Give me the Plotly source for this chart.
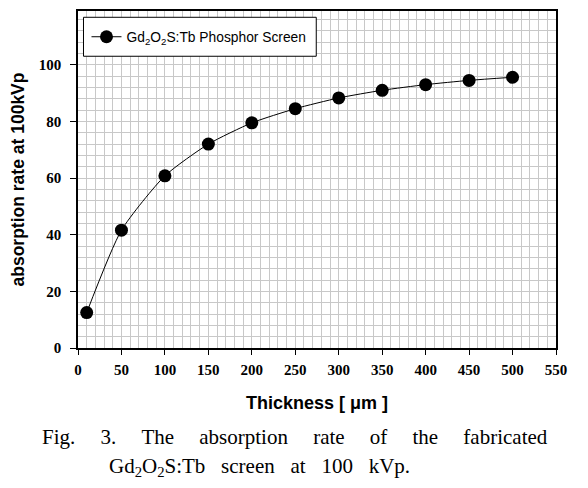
import plotly.graph_objects as go

thickness = [10, 50, 100, 150, 200, 250, 300, 350, 400, 450, 500]
absorption = [12.5, 41.6, 60.8, 72.0, 79.5, 84.5, 88.3, 91.0, 93.0, 94.5, 95.6]
series_name = "Gd<sub>2</sub>O<sub>2</sub>S:Tb Phosphor Screen"
x_title = "Thickness [ \u03bcm ]"
y_title = "absorption rate at 100kVp"
GAP = "    \u2009"
caption1 = GAP.join(["Fig.", "3.", "The", "absorption", "rate", "of", "the", "fabricated"])
caption2 = "Gd<sub>2</sub>O<sub>2</sub>S:Tb   screen   at   100   kVp."

# page body has an 8px margin; figure is placed at (8, 8)
OFF = 8
W, H = 588 - OFF, 488 - OFF
L, R, T, B = 77.5 - OFF, 32, 10.7 - OFF, 140
PW, PH = W - L - R, H - T - B

def px(x):
    return (x - OFF - L) / PW

def py(y):
    return (H - B - (y - OFF)) / PH

fig = go.Figure()
fig.add_trace(go.Scatter(
    x=thickness, y=absorption, name=series_name, mode="lines+markers",
    line=dict(color="black", width=1, shape="spline", smoothing=0.6),
    marker=dict(color="black", size=13),
))

tickfont = dict(family="Liberation Serif", size=15, color="black", weight="bold")
grid = "#c8c8c8"
fig.update_xaxes(
    range=[0, 550], dtick=50, tick0=0, ticks="outside", ticklen=5, tickcolor="black",
    showline=True, linecolor="black", linewidth=1.5, mirror=True,
    showgrid=True, gridcolor=grid, gridwidth=1, zeroline=False,
    minor=dict(dtick=10, showgrid=True, gridcolor=grid, gridwidth=1),
    tickfont=tickfont, ticklabelstandoff=2,
    title=dict(text=x_title, font=dict(family="Liberation Sans", size=18, color="black", weight="bold"), standoff=20),
)
fig.update_yaxes(
    range=[0, 119], dtick=20, tick0=0, ticks="outside", ticklen=6, tickcolor="black",
    showline=True, linecolor="black", linewidth=1.5, mirror=True,
    showgrid=True, gridcolor=grid, gridwidth=1, zeroline=False,
    minor=dict(dtick=4, showgrid=True, gridcolor=grid, gridwidth=1),
    tickfont=tickfont, ticklabelstandoff=6,
    title=dict(text=y_title, font=dict(family="Liberation Sans", size=17.5, color="black", weight="bold"), standoff=18),
)

fig.add_shape(type="rect", xref="paper", yref="paper", x0=px(83), x1=px(316), y0=py(56), y1=py(17),
              line=dict(color="black", width=1), fillcolor="white", layer="above")

fig.add_annotation(text=caption1, xref="paper", yref="paper", x=px(294.5), y=py(437),
                   xanchor="center", yanchor="middle", showarrow=False,
                   font=dict(family="Liberation Serif", size=21, color="black"))
fig.add_annotation(text=caption2, xref="paper", yref="paper", x=px(107), y=py(467),
                   xanchor="left", yanchor="middle", showarrow=False,
                   font=dict(family="Liberation Serif", size=21, color="black"))

fig.update_layout(
    width=W, height=H, margin=dict(l=L, r=R, t=T, b=B, autoexpand=False),
    paper_bgcolor="white", plot_bgcolor="white",
    showlegend=True,
    legend=dict(x=px(86), y=py(36.5), xanchor="left", yanchor="middle", bgcolor="rgba(0,0,0,0)",
                borderwidth=0, font=dict(family="Liberation Sans", size=13.8, color="black")),
)

fig.write_html("out.html")
